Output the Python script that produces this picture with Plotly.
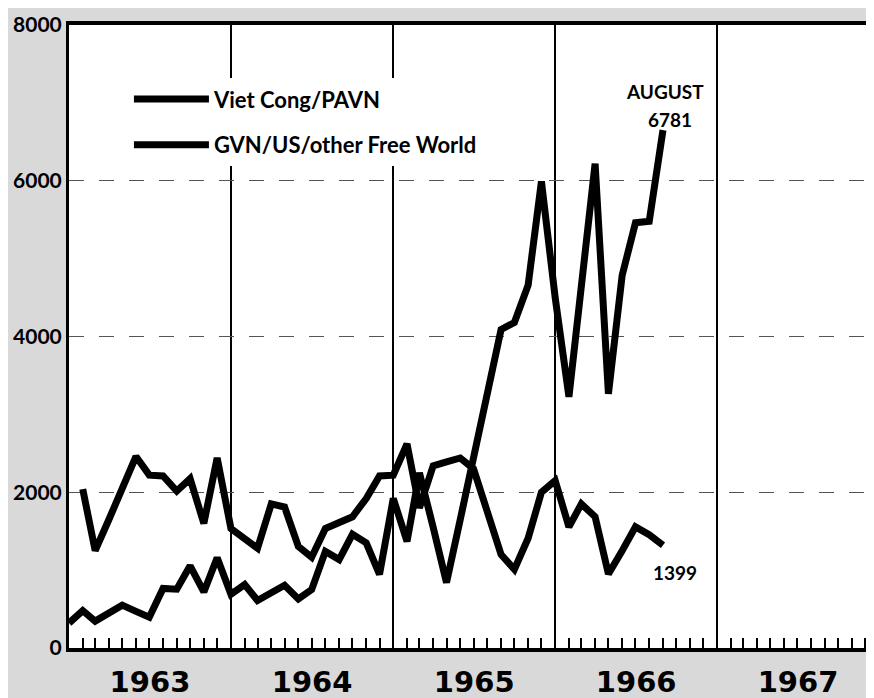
import plotly.graph_objects as go
import pandas as pd

# Plotting positions: each monthly value is plotted at the end of its month
months = pd.date_range("1963-01-01", periods=45, freq="MS")

vc_values = [320, 480, 345, 445, 550, 470, 395, 765, 755, 1055, 720, 1160,
             690, 815, 610, 710, 805, 630, 750, 1240, 1135, 1460, 1350, 945,
             1920, 1370, 2250, 1550, 840, 1650, 2450, 3280, 4090, 4180, 4660, 5990,
             4500, 3225, 4720, 6220, 3265, 4785, 5460, 5480, 6650]
vc_months = list(months)

gvn_values = [2040, 1250, 1650, 2050, 2460, 2220, 2210, 2015, 2175, 1600, 2440,
              1535, 1410, 1280, 1850, 1810, 1305, 1165, 1535, 1600, 1685, 1920, 2210,
              2220, 2620, 1800, 2340, 2390, 2440, 2300, 1750, 1200, 1010, 1410, 2000,
              2150, 1555, 1850, 1685, 950, 1250, 1555, 1455, 1320]
gvn_months = list(months[1:])

y_tick_vals = [0, 2000, 4000, 6000, 8000]
y_tick_text = ["0", "2000", "4000", "6000", "8000"]

vc_name = "Viet Cong/PAVN"
gvn_name = "GVN/US/other Free World"

fig = go.Figure()
fig.add_trace(go.Scatter(x=vc_months, y=vc_values, mode="lines", name=vc_name,
                         legendgroup="vc",
                         line=dict(color="black", width=7)))
fig.add_trace(go.Scatter(x=gvn_months, y=gvn_values, mode="lines", name=gvn_name,
                         legendgroup="gvn",
                         line=dict(color="black", width=7)))

label_font = dict(family="Lato", size=19, color="black", weight="bold")
fig.add_annotation(x="1966-09-05", y=7140, xref="x", yref="y", text="AUGUST",
                   showarrow=False, font=label_font)
fig.add_annotation(x="1966-09-16", y=6785, xref="x", yref="y", text="6781",
                   showarrow=False, font=label_font)
fig.add_annotation(x="1966-09-28", y=975, xref="x", yref="y", text="1399",
                   showarrow=False, font=label_font)

fig.update_layout(
    width=874, height=698,
    margin=dict(l=61, r=3, t=8, b=58),
    paper_bgcolor="#d9d9d9",
    plot_bgcolor="white",
    showlegend=True,
    legend=dict(x=0.074, y=0.9145, xanchor="left", yanchor="top",
                bgcolor="white",
                font=dict(family="Lato", size=22, color="black", weight="bold"),
                tracegroupgap=14, traceorder="grouped", itemwidth=75),
    xaxis=dict(
        type="date",
        range=["1963-01-01", "1968-01-01"],
        tick0="1963-01-01", dtick="M12",
        tickformat="%Y", ticklabelmode="period",
        ticks="",
        ticklabelstandoff=5,
        showgrid=True, gridcolor="black", gridwidth=2,
        showline=True, linecolor="black", linewidth=4, mirror=True,
        tickfont=dict(family="DejaVu Sans", size=29, color="black", weight="bold"),
        minor=dict(dtick="M1", tick0="1963-01-01", ticks="inside", ticklen=10,
                   tickwidth=1.5, tickcolor="black", showgrid=False),
    ),
    yaxis=dict(
        range=[0, 8000],
        tickvals=y_tick_vals, ticktext=y_tick_text,
        ticks="",
        ticklabeloverflow="allow",
        showgrid=True, gridcolor="#555555", gridwidth=1, griddash="longdash",
        showline=True, linecolor="black", linewidth=3,
        zeroline=False,
        tickfont=dict(family="Lato", size=21, color="black", weight="bold"),
    ),
)

fig.write_html("out.html")
